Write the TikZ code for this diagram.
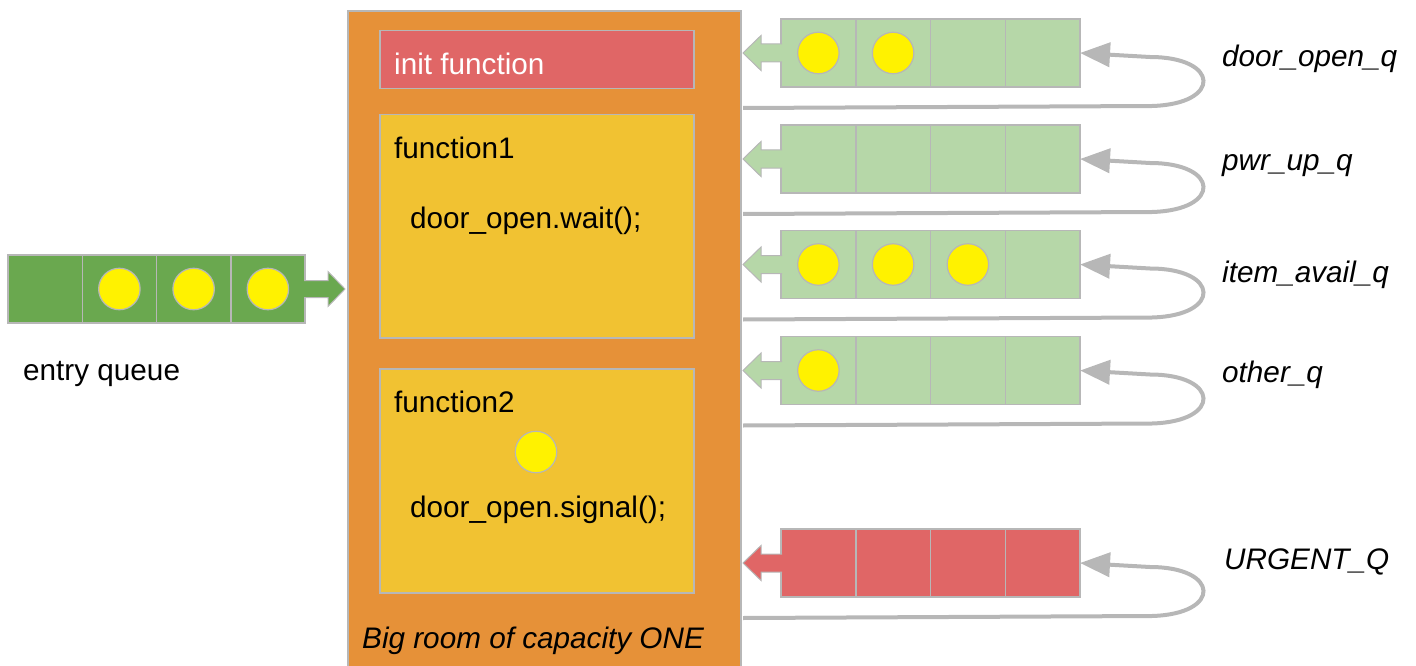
\documentclass[tikz,border=0pt]{standalone}
\usepackage{fontspec}
\setmainfont{Liberation Sans}
\usepackage{xcolor}
\usetikzlibrary{arrows.meta, positioning, calc}
\definecolor{roomorange}{HTML}{E69138}
\definecolor{fnyellow}{HTML}{F1C232}
\definecolor{urgentred}{HTML}{E06666}
\definecolor{entrygreen}{HTML}{6AA84F}
\definecolor{waitgreen}{HTML}{B6D7A8}
\definecolor{edgegray}{HTML}{B7B7B7}
\newcommand{\bodyfont}{\fontsize{29.7}{36}\selectfont}
\tikzstyle{room} = [rectangle, anchor=north west, minimum width=393pt, minimum height=700pt, inner sep=0pt, draw=edgegray, line width=2pt, fill=roomorange]
\tikzstyle{fnbox} = [rectangle, anchor=north west, minimum width=314pt, inner sep=0pt, draw=edgegray, line width=1.5pt, fill=fnyellow]
\tikzstyle{cell} = [rectangle, minimum width=74.75pt, minimum height=68pt, inner sep=0pt, outer sep=0pt, draw=edgegray, line width=1.5pt]
\tikzstyle{waitcell} = [cell, fill=waitgreen]
\tikzstyle{urgentcell} = [cell, fill=urgentred]
\tikzstyle{entrycell} = [cell, minimum width=74.25pt, fill=entrygreen]
\tikzstyle{dot} = [circle, minimum size=41.5pt, inner sep=0pt, draw=edgegray, line width=1.2pt, fill=yellow]
\tikzstyle{boxtext} = [anchor=base west, inner sep=0pt]
\tikzstyle{qname} = [anchor=base west, inner sep=0pt, font=\bodyfont\itshape]
\tikzstyle{fatarrow} = [draw=edgegray, line width=1pt]
\tikzstyle{loopback} = [draw=edgegray, line width=4pt, -{Triangle[length=30pt, width=24pt]}]

\begin{document}
\begin{tikzpicture}[x=1pt, y=-1pt, font=\bodyfont]
  \useasboundingbox (0,0) rectangle (1416,666);
  \clip (0,0) rectangle (1416,666);

  % the monitor room and its functions
  \node (room) [room] at (347,10) {};
  \node (initfn) [fnbox, minimum height=58pt, fill=urgentred] at (379,30) {};
  \node (fnone) [fnbox, minimum height=223pt] at (379,114) {};
  \node (fntwo) [fnbox, minimum height=224pt] at (379,368) {};

  \node (inittext) [boxtext, text=white] at ($(initfn.north west)+(15,45)$) {init function};
  \node (fnonetitle) [boxtext] at ($(fnone.north west)+(15,44)$) {function1};
  \node (fnonecode) [boxtext] at ($(fnone.north west)+(31,114)$) {door\_open.wait();};
  \node (fntwotitle) [boxtext] at ($(fntwo.north west)+(15,44)$) {function2};
  \node (fntwodot) [dot] at ($(fntwo.north west)+(157,84)$) {};
  \node (fntwocode) [boxtext] at ($(fntwo.north west)+(31,149)$) {door\_open.signal();};
  \node (roomtext) [qname] at ($(room.north west)+(15,638)$) {Big room of capacity ONE};

  % entry queue
  \node (e1) [entrycell] at (45.125,289) {};
  \node (e2) [entrycell, right=0pt of e1] {};
  \node (e3) [entrycell, right=0pt of e2] {};
  \node (e4) [entrycell, right=0pt of e3] {};
  \node (edot2) [dot] at (e2) {};
  \node (edot3) [dot] at (e3) {};
  \node (edot4) [dot] at (e4) {};
  \node (entrytext) [boxtext] at ($(e1.south west)+(15,57)$) {entry queue};
  \filldraw[fatarrow, fill=entrygreen] ($(e4.east)+(-1,-8.5)$) -- ++(24,0) -- ++(0,-9)
    -- ++(17,17.5) -- ++(-17,17.5) -- ++(0,-9) -- ++(-24,0);

  % condition queues
  \node (dq1) [waitcell] at (818.375,53) {};
  \node (dq2) [waitcell, right=0pt of dq1] {};
  \node (dq3) [waitcell, right=0pt of dq2] {};
  \node (dq4) [waitcell, right=0pt of dq3] {};
  \node (dqdot1) [dot] at (dq1) {};
  \node (dqdot2) [dot] at (dq2) {};

  \node (pq1) [waitcell] at (818.375,159) {};
  \node (pq2) [waitcell, right=0pt of pq1] {};
  \node (pq3) [waitcell, right=0pt of pq2] {};
  \node (pq4) [waitcell, right=0pt of pq3] {};

  \node (iq1) [waitcell] at (818.375,264.5) {};
  \node (iq2) [waitcell, right=0pt of iq1] {};
  \node (iq3) [waitcell, right=0pt of iq2] {};
  \node (iq4) [waitcell, right=0pt of iq3] {};
  \node (iqdot1) [dot] at (iq1) {};
  \node (iqdot2) [dot] at (iq2) {};
  \node (iqdot3) [dot] at (iq3) {};

  \node (oq1) [waitcell] at (818.375,370.5) {};
  \node (oq2) [waitcell, right=0pt of oq1] {};
  \node (oq3) [waitcell, right=0pt of oq2] {};
  \node (oq4) [waitcell, right=0pt of oq3] {};
  \node (oqdot1) [dot] at (oq1) {};

  \node (uq1) [urgentcell] at (818.375,563) {};
  \node (uq2) [urgentcell, right=0pt of uq1] {};
  \node (uq3) [urgentcell, right=0pt of uq2] {};
  \node (uq4) [urgentcell, right=0pt of uq3] {};

  % exits back into the room
  \filldraw[fatarrow, fill=waitgreen] ($(dq1.west)+(1,-9)$) -- ++(-21,0) -- ++(0,-8.5)
    -- ++(-18,17.5) -- ++(18,17.5) -- ++(0,-8.5) -- ++(21,0);
  \filldraw[fatarrow, fill=waitgreen] ($(pq1.west)+(1,-9)$) -- ++(-21,0) -- ++(0,-8.5)
    -- ++(-18,17.5) -- ++(18,17.5) -- ++(0,-8.5) -- ++(21,0);
  \filldraw[fatarrow, fill=waitgreen] ($(iq1.west)+(1,-9)$) -- ++(-21,0) -- ++(0,-8.5)
    -- ++(-18,17.5) -- ++(18,17.5) -- ++(0,-8.5) -- ++(21,0);
  \filldraw[fatarrow, fill=waitgreen] ($(oq1.west)+(1,-9)$) -- ++(-21,0) -- ++(0,-8.5)
    -- ++(-18,17.5) -- ++(18,17.5) -- ++(0,-8.5) -- ++(21,0);
  \filldraw[fatarrow, fill=urgentred] ($(uq1.west)+(1,-9)$) -- ++(-21,0) -- ++(0,-8.5)
    -- ++(-18,17.5) -- ++(18,17.5) -- ++(0,-8.5) -- ++(21,0);

  % loops from the room back to the tail of each queue
  \draw[loopback] ($(room.east |- dq4.south)+(1,21)$) -- ++(409,-2)
    .. controls +(70,-2) and +(70,0) .. ($(dq4.east)+(70,4)$) -- (dq4.east);
  \draw[loopback] ($(room.east |- pq4.south)+(1,21)$) -- ++(409,-2)
    .. controls +(70,-2) and +(70,0) .. ($(pq4.east)+(70,4)$) -- (pq4.east);
  \draw[loopback] ($(room.east |- iq4.south)+(1,21)$) -- ++(409,-2)
    .. controls +(70,-2) and +(70,0) .. ($(iq4.east)+(70,4)$) -- (iq4.east);
  \draw[loopback] ($(room.east |- oq4.south)+(1,21)$) -- ++(409,-2)
    .. controls +(70,-2) and +(70,0) .. ($(oq4.east)+(70,4)$) -- (oq4.east);
  \draw[loopback] ($(room.east |- uq4.south)+(1,21)$) -- ++(409,-2)
    .. controls +(70,-2) and +(70,0) .. ($(uq4.east)+(70,4)$) -- (uq4.east);

  % queue names
  \node (dqname) [qname] at (1222,67) {door\_open\_q};
  \node (pqname) [qname] at (1222,171) {pwr\_up\_q};
  \node (iqname) [qname] at (1222,282) {item\_avail\_q};
  \node (oqname) [qname] at (1222,382) {other\_q};
  \node (uqname) [qname] at (1224,569) {URGENT\_Q};
\end{tikzpicture}
\end{document}
